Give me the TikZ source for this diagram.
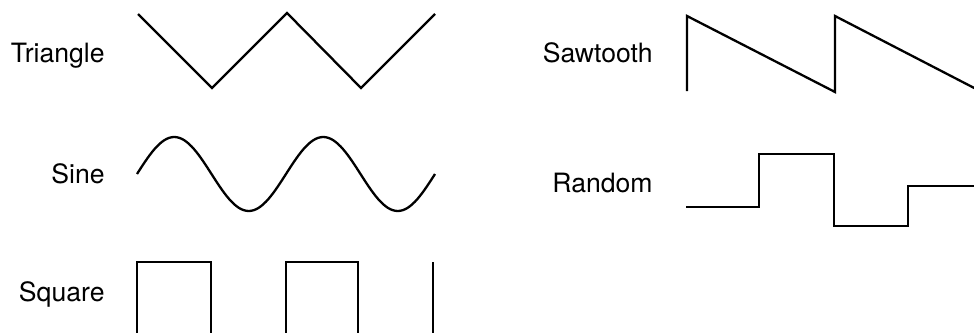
\documentclass[tikz,border=0pt]{standalone}
\usepackage{fontspec}
\setmainfont{TeX Gyre Heros}
\usepackage{tikz}
\tikzset{
  waves/.style={
    x=.5pt, y=-.5pt,
    every node/.style={anchor=base east, inner sep=0pt,
      font={\fontsize{13.3}{15}\selectfont}}
  },
  wave/.style={line width=1.15pt, line join=miter}
}

\begin{document}
\begin{tikzpicture}[waves]
\useasboundingbox (0,0) rectangle (974,332);
\clip (0,0) rectangle (974,332);
% labels
\node (triangle) at (105,62) {Triangle};
\node (sine) at (105,183) {Sine};
\node (square) at (105,301) {Square};
\node (sawtooth) at (653,62) {Sawtooth};
\node (random) at (653,192) {Random};
% left column
\draw[wave] (138,14) -- (212,88) -- (287,13) -- (361,88) -- (435,14);
\draw[wave] plot[domain=137:435, samples=121, smooth]
  (\x, {174-37*sin((\x-137)/149*360)});
\draw[wave] (137,340) |- (211,262) -- (211,340);
\draw[wave] (286,340) |- (358,262) -- (358,340);
\draw[wave] (433,262) -- (433,340);
% right column
\draw[wave] (687,91) -- (687,16) -- (835,92) -- (835,16) -- (980,91);
\draw[wave] (686,207) -| (759,154) -| (834,226) -| (908,186) -- (980,186);
\end{tikzpicture}
\end{document}
